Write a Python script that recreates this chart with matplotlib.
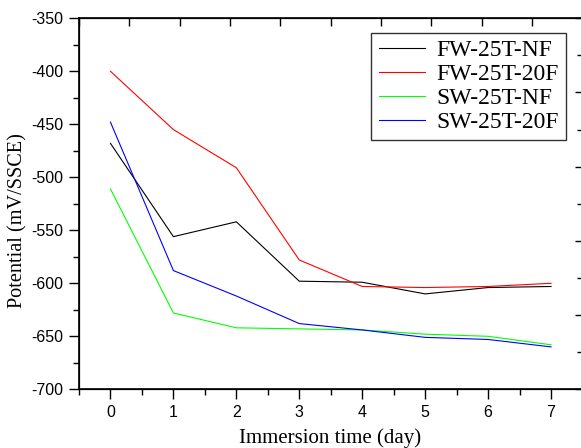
import numpy as np
import matplotlib.pyplot as plt
from matplotlib.ticker import MultipleLocator, NullFormatter

# Data
days = [0, 1, 2, 3, 4, 5, 6, 7]
fw_nf = [-468, -556, -542, -598, -599, -610, -604, -603]
fw_20f = [-400, -455, -491, -578, -603, -604, -603, -600]
sw_nf = [-511, -628, -642, -643, -644, -648, -650, -658]
sw_20f = [-448, -588, -612, -638, -644, -651, -653, -660]

labels = ['FW-25T-NF', 'FW-25T-20F', 'SW-25T-NF', 'SW-25T-20F']
colors = ['#000000', '#ff0000', '#00ff00', '#0000ff']

serif = ['Liberation Serif', 'DejaVu Serif']
sans = ['Liberation Sans', 'DejaVu Sans']
plt.rcParams['axes.unicode_minus'] = False

fig = plt.figure(figsize=(5.81, 4.48), dpi=100)
ax = fig.add_axes([79/581, 1-389.3/448, (582.5-79)/581, (389.3-18.3)/448])

for ys, lab, c in zip([fw_nf, fw_20f, sw_nf, sw_20f], labels, colors):
    ax.plot(days, ys, color=c, lw=0.8, label=lab)

ax.set_xlim(-0.5, 7.5)
ax.set_ylim(-700, -350)
ax.xaxis.set_major_locator(MultipleLocator(1))
ax.xaxis.set_minor_locator(MultipleLocator(0.5))
ax.yaxis.set_major_locator(MultipleLocator(50))
ax.yaxis.set_minor_locator(MultipleLocator(25))
ax.tick_params(which='major', direction='out', length=7, width=1, pad=4)
ax.tick_params(which='minor', direction='out', length=4, width=1)
for lb in ax.get_xticklabels() + ax.get_yticklabels():
    lb.set_family(sans)
    lb.set_fontsize(11.5)
for sp in ax.spines.values():
    sp.set_linewidth(1.2)

ax.set_xlabel('Immersion time (day)', family=serif, fontsize=15, va='baseline')
ax.set_ylabel('Potential (mV/SSCE)', family=serif, fontsize=14.6, va='baseline')
ax.xaxis.set_label_coords(0.4995, -0.144)
ax.yaxis.set_label_coords(-0.1118, 0.4536)

# top and right axes with their own ticks, no labels
top = ax.twiny()
top.set_xlim(0, 1)
top.set_xticks(np.linspace(0, 1, 11))
top.xaxis.set_major_formatter(NullFormatter())
top.tick_params(axis='x', direction='in', length=6, width=1)
right = ax.twinx()
right.set_ylim(0, 1)
right.set_yticks(np.linspace(0, 1, 6))
right.set_yticks(np.linspace(0.1, 0.9, 5), minor=True)
right.yaxis.set_major_formatter(NullFormatter())
right.tick_params(axis='y', which='major', direction='in', length=6, width=1)
right.tick_params(axis='y', which='minor', direction='in', length=4, width=1)

leg = ax.legend(loc='upper right', bbox_to_anchor=(566/581, 1-32.7/448),
                bbox_transform=fig.transFigure, prop={'family': serif, 'size': 17},
                frameon=True, fancybox=False, handlelength=1.95, borderpad=0.3,
                labelspacing=0.1, handletextpad=0.5, borderaxespad=0)
leg.get_frame().set_edgecolor('black')
leg.get_frame().set_linewidth(1.0)

plt.savefig('out.png', dpi=100)
